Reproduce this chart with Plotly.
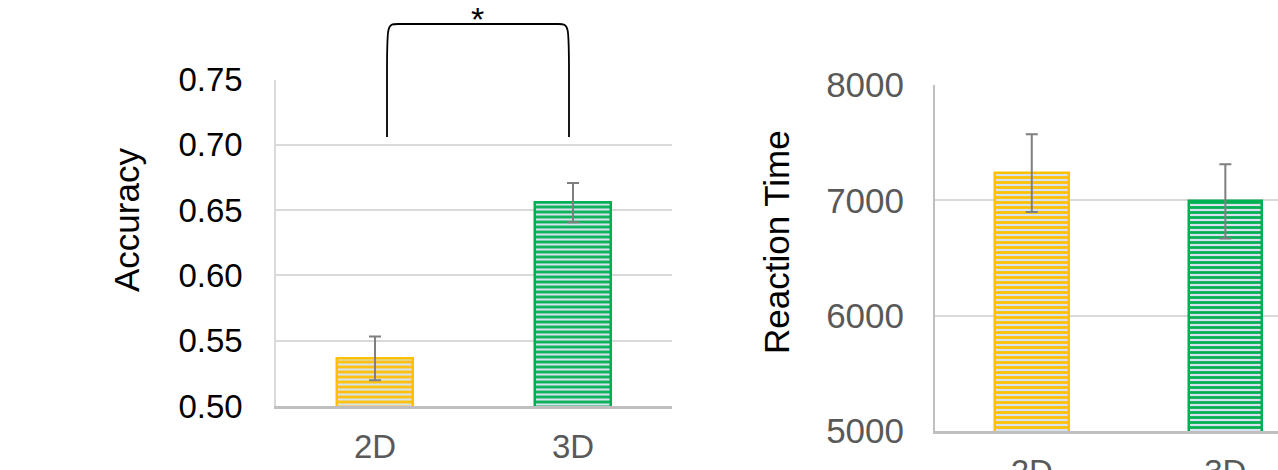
import plotly.graph_objects as go

# ---- data ----
categories = ["2D", "3D"]
accuracy = [0.5365, 0.6557]
accuracy_err = [0.0167, 0.0150]
reaction_time = [7235, 6990]
reaction_time_err = [337, 322]
acc_ticks = [0.50, 0.55, 0.60, 0.65, 0.70, 0.75]
rt_ticks = [5000, 6000, 7000, 8000]
bar_colors = ["#FFC000", "#00B050"]

W, H = 1278, 470
FONT = "Liberation Sans, Arial, sans-serif"

def px_x(p):
    return p / W

def px_y(p):
    return 1 - p / H

fig = go.Figure()

for i, cat in enumerate(categories):
    for vals, errs, xa, ya in ((accuracy, accuracy_err, "x", "y"),
                               (reaction_time, reaction_time_err, "x2", "y2")):
        fig.add_trace(go.Bar(
            x=[cat], y=[vals[i]], width=0.38,
            error_y=dict(type="data", array=[errs[i]], color="#7F7F7F", thickness=2, width=6),
            marker=dict(color="#D6E2F0", line=dict(color=bar_colors[i], width=2.5),
                        pattern=dict(shape="-", fgcolor=bar_colors[i], bgcolor="#D6E2F0",
                                     size=5, solidity=0.55, fillmode="replace")),
            xaxis=xa, yaxis=ya, showlegend=False, hoverinfo="skip",
        ))

common_x = dict(type="category", categoryorder="array", categoryarray=categories,
                showline=True, linecolor="#BFBFBF", linewidth=3, showgrid=False,
                ticks="", tickfont=dict(family=FONT, size=33, color="#595959"),
                ticklabelstandoff=9, zeroline=False, automargin=False, fixedrange=True)

fig.update_layout(
    width=W, height=H,
    margin=dict(l=0, r=0, t=0, b=0),
    paper_bgcolor="white", plot_bgcolor="white",
    bargap=0,
    xaxis=dict(common_x, domain=[px_x(276), px_x(672)], range=[-0.5, 1.5], anchor="y"),
    yaxis=dict(domain=[px_y(406), px_y(79.5)], range=[0.5, 0.75], tickvals=acc_ticks,
               tickformat=".2f", showgrid=True, gridcolor="#D9D9D9", gridwidth=1.5,
               showline=True, linecolor="#D9D9D9", linewidth=1.5, ticks="",
               tickfont=dict(family=FONT, size=33, color="#000000"), ticklabelstandoff=25,
               zeroline=False, automargin=False, anchor="x", fixedrange=True),
    xaxis2=dict(common_x, domain=[px_x(935), 1.0], range=[-0.5, 1.272], anchor="y2"),
    yaxis2=dict(domain=[px_y(431), px_y(85)], range=[5000, 8000], tickvals=rt_ticks,
                showgrid=True, gridcolor="#D9D9D9", gridwidth=1.5,
                showline=True, linecolor="#BFBFBF", linewidth=2, ticks="",
                tickfont=dict(family=FONT, size=35, color="#595959"), ticklabelstandoff=22,
                zeroline=False, automargin=False, anchor="x2", fixedrange=True),
)

# axis titles
fig.add_annotation(text="Accuracy", x=px_x(126), y=px_y(220), xref="paper", yref="paper",
                   textangle=-90, showarrow=False, xanchor="center", yanchor="middle",
                   font=dict(family=FONT, size=35, color="#000000"))
fig.add_annotation(text="Reaction Time", x=px_x(777), y=px_y(242), xref="paper", yref="paper",
                   textangle=-90, showarrow=False, xanchor="center", yanchor="middle",
                   font=dict(family=FONT, size=35, color="#000000"))

# significance bracket
xl, xr = px_x(387), px_x(569)
xlc, xrc = px_x(398), px_x(558)
yb, yt = px_y(137), px_y(24)
ym = px_y(75)
path = (f"M {xl},{yb} L {xl},{ym} C {xl},{yt} {xl},{yt} {xlc},{yt} "
        f"L {xrc},{yt} C {xr},{yt} {xr},{yt} {xr},{ym} L {xr},{yb}")
fig.add_shape(type="path", path=path, xref="paper", yref="paper",
              line=dict(color="#000000", width=1.8))
fig.add_annotation(text="*", x=px_x(477), y=px_y(19), xref="paper", yref="paper",
                   showarrow=False, xanchor="center", yanchor="middle",
                   font=dict(family=FONT, size=34, color="#000000"))

fig.write_html("out.html", config={"displayModeBar": False},
               post_script="document.body.style.margin='0px';document.body.style.padding='0px';")
